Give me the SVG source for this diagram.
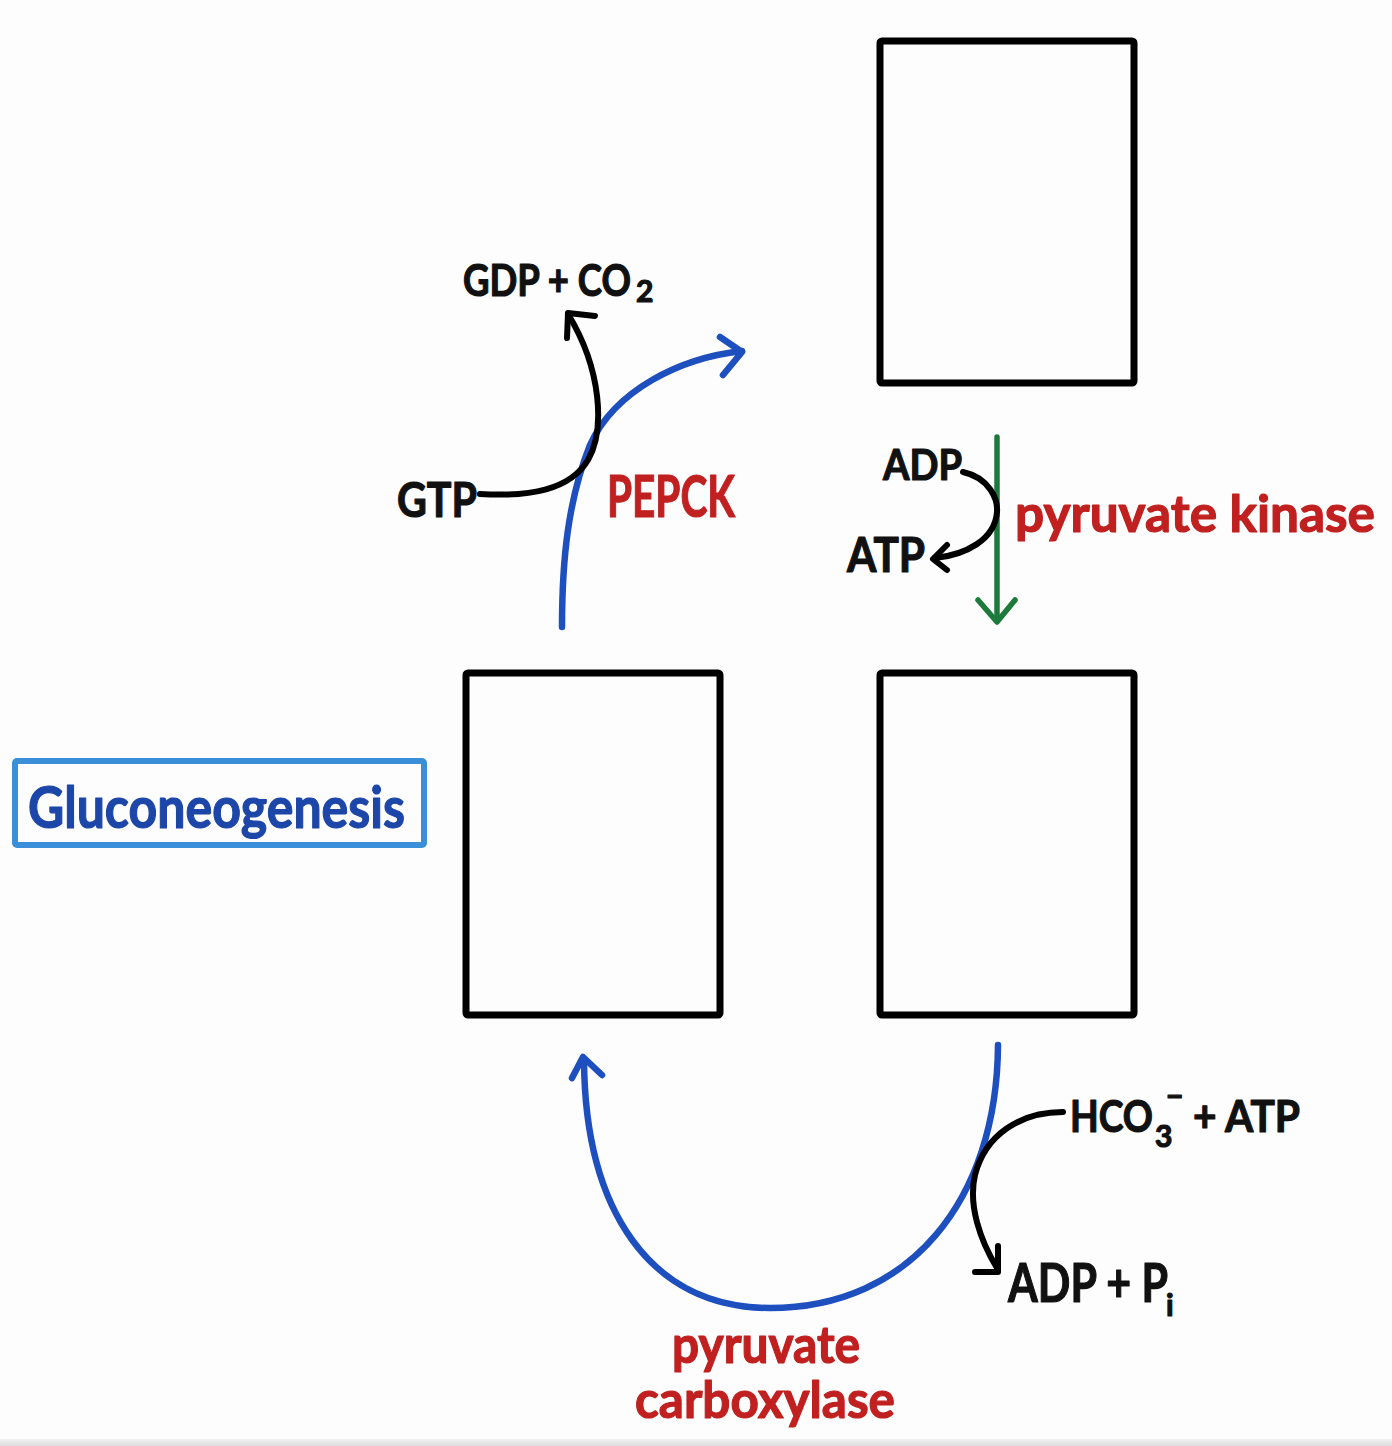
<svg xmlns="http://www.w3.org/2000/svg" width="1392" height="1446" viewBox="0 0 1392 1446">
<style>
text { font-family: Lato, "Open Sans", "DejaVu Sans", sans-serif; font-weight: 700; stroke-width: 1.2; stroke-linejoin: round; }
.blk { fill: #111; stroke: #111; }
.red { fill: #c0201f; stroke: #c0201f; }
.title { fill: #1c46a8; stroke: #1c46a8; }
.box { fill: none; stroke: #000; stroke-width: 7; stroke-linejoin: round; }
.blue { fill: none; stroke: #1d4fbf; stroke-width: 6.5; stroke-linecap: round; stroke-linejoin: round; }
.black { fill: none; stroke: #000; stroke-width: 6; stroke-linecap: round; stroke-linejoin: round; }
.green { fill: none; stroke: #1c7a3b; stroke-width: 5.5; stroke-linecap: round; stroke-linejoin: round; }
</style>
<defs>
<linearGradient id="band" x1="0" y1="0" x2="0" y2="1">
<stop offset="0" stop-color="#f2f2f2"/>
<stop offset="1" stop-color="#dcdcdc"/>
</linearGradient>
</defs>
<rect x="0" y="0" width="1392" height="1446" fill="#fdfdfd"/>
<rect x="0" y="1439" width="1392" height="7" fill="url(#band)"/>

<g id="box-top-right"><rect class="box" x="880" y="41" width="254" height="342" rx="2"/></g>
<g id="box-bottom-left"><rect class="box" x="466" y="673" width="254" height="342" rx="2"/></g>
<g id="box-bottom-right"><rect class="box" x="880" y="673" width="254" height="342" rx="2"/></g>

<g id="title">
<rect x="15" y="761" width="409" height="84" fill="none" stroke="#3a8fd8" stroke-width="6" rx="2"/>
<text class="title" x="28" y="828" font-size="58" textLength="377" lengthAdjust="spacingAndGlyphs">Gluconeogenesis</text>
</g>

<g id="connectors">
<path class="blue" d="M 562 627 C 562 560, 568 500, 590 445 C 615 390, 680 358, 742 351"/>
<polyline class="blue" points="720,337 742,352 723,375"/>
<path class="black" d="M 480 494 C 530 497, 570 490, 588 460 C 605 430, 602 370, 568 314"/>
<polyline class="black" points="567,338 568,313 595,316"/>
<line class="green" x1="997" y1="437" x2="997" y2="620"/>
<polyline class="green" points="978,600 997,622 1015,600"/>
<path class="black" d="M 963 472 C 990 478, 998 500, 997 512 C 995 540, 965 555, 935 558"/>
<polyline class="black" points="947,545 933,559 947,570"/>
<path class="blue" d="M 998 1045 C 997 1200, 910 1308, 770 1308 C 650 1308, 585 1210, 584 1060"/>
<polyline class="blue" points="572,1078 583,1057 602,1075"/>
<path class="black" d="M 1063 1112 C 1020 1112, 985 1135, 975 1175 C 968 1205, 980 1240, 997 1268"/>
<polyline class="black" points="998,1246 998,1272 975,1272"/>
</g>

<g id="label-gdp">
<text class="blk" x="463" y="296" font-size="44"><tspan textLength="168" lengthAdjust="spacingAndGlyphs">GDP + CO</tspan><tspan x="636" y="302" font-size="30">2</tspan></text>
</g>
<g id="label-gtp"><text class="blk" x="397" y="517" font-size="48" textLength="80" lengthAdjust="spacingAndGlyphs">GTP</text></g>
<g id="label-pepck"><text class="red" x="607" y="517" font-size="58" textLength="128" lengthAdjust="spacingAndGlyphs">PEPCK</text></g>
<g id="label-adp"><text class="blk" x="883" y="480" font-size="42" textLength="79" lengthAdjust="spacingAndGlyphs">ADP</text></g>
<g id="label-atp"><text class="blk" x="847" y="572" font-size="48" textLength="78" lengthAdjust="spacingAndGlyphs">ATP</text></g>
<g id="label-pk"><text class="red" x="1015" y="532" font-size="52" textLength="360" lengthAdjust="spacingAndGlyphs">pyruvate kinase</text></g>
<g id="label-hco3">
<text class="blk" x="1070" y="1132" font-size="44"><tspan textLength="83" lengthAdjust="spacingAndGlyphs">HCO</tspan><tspan x="1155" y="1147" font-size="30">3</tspan><tspan x="1166" y="1107" font-size="30">−</tspan><tspan x="1193" y="1132" textLength="107" lengthAdjust="spacingAndGlyphs">+ ATP</tspan></text>
</g>
<g id="label-adp-pi">
<text class="blk" x="1008" y="1302" font-size="54"><tspan textLength="160" lengthAdjust="spacingAndGlyphs">ADP + P</tspan><tspan x="1166" y="1316" font-size="30">i</tspan></text>
</g>
<g id="label-pc">
<text class="red" x="672" y="1363" font-size="52" textLength="188" lengthAdjust="spacingAndGlyphs">pyruvate</text>
<text class="red" x="635" y="1418" font-size="52" textLength="260" lengthAdjust="spacingAndGlyphs">carboxylase</text>
</g>
</svg>
